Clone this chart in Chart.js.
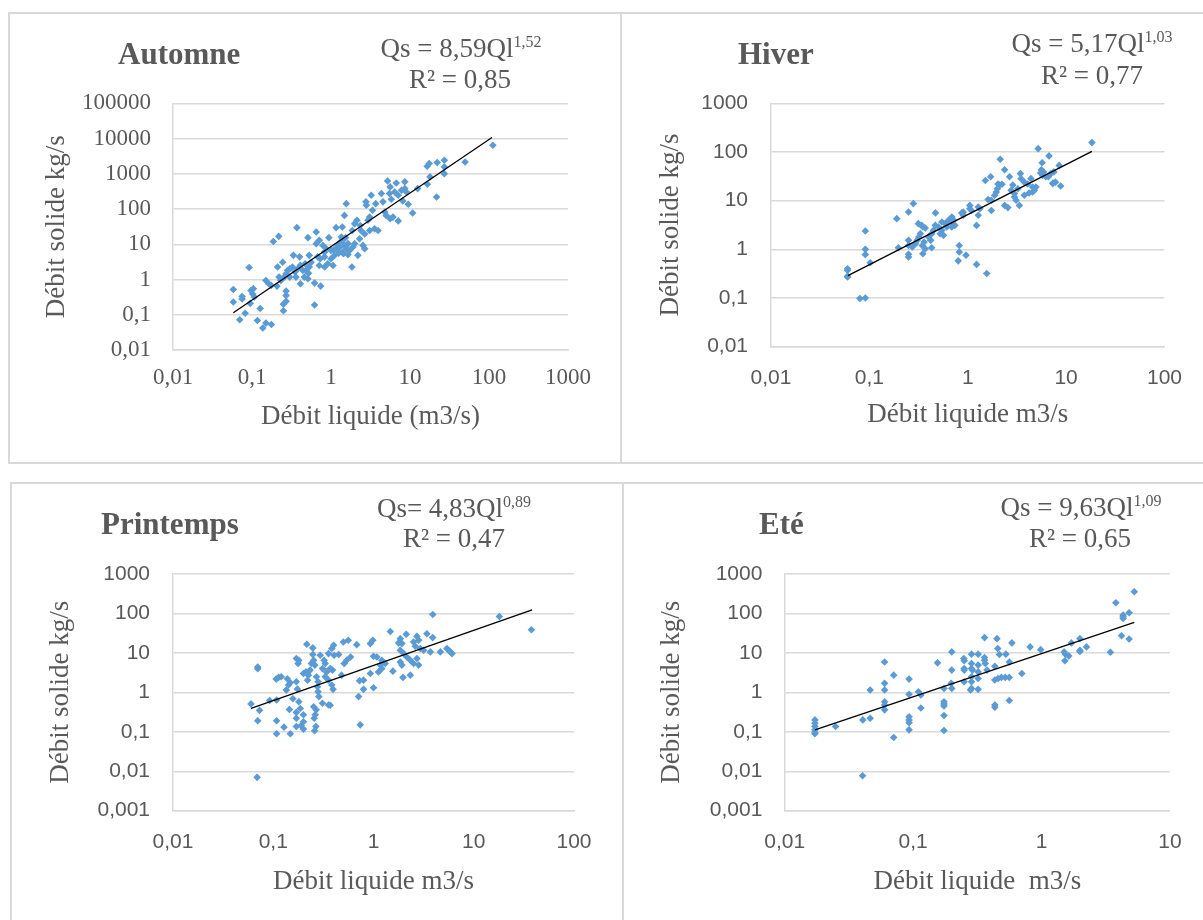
<!DOCTYPE html>
<html><head><meta charset="utf-8">
<script src="https://cdn.jsdelivr.net/npm/chart.js@4"></script>
<style>
html,body{margin:0;padding:0;background:#fff;}
body{width:1203px;height:920px;position:relative;overflow:hidden;font-family:'Liberation Serif','Times New Roman',serif;color:#595959;}
.frame{position:absolute;border:2px solid #d9d9d9;box-sizing:border-box;}
canvas{position:absolute;}
.t{position:absolute;white-space:nowrap;line-height:1;}
.title{font-weight:bold;font-size:31px;transform:translate(0,-50%);}
.eq{font-size:27px;transform:translate(-50%,-50%);}
.sp{font-size:16px;position:relative;top:-10px;}
</style>
</head><body>
<div class="frame" style="left:8px;top:12px;width:614px;height:452px;"></div>
<div class="frame" style="left:620px;top:12px;width:600px;height:452px;"></div>
<div class="frame" style="left:10px;top:482px;width:614px;height:460px;"></div>
<div class="frame" style="left:622px;top:482px;width:600px;height:460px;"></div>

<canvas id="c1"></canvas>
<canvas id="c2"></canvas>
<canvas id="c3"></canvas>
<canvas id="c4"></canvas>

<div class="t title" style="left:118px;top:53px;">Automne</div>
<div class="t eq" style="left:461px;top:48px;">Qs = 8,59Ql<span class="sp">1,52</span></div>
<div class="t eq" style="left:460px;top:79px;">R² = 0,85</div>

<div class="t title" style="left:738px;top:53px;">Hiver</div>
<div class="t eq" style="left:1092px;top:43px;">Qs = 5,17Ql<span class="sp">1,03</span></div>
<div class="t eq" style="left:1092px;top:75px;">R² = 0,77</div>

<div class="t title" style="left:101px;top:523px;">Printemps</div>
<div class="t eq" style="left:454px;top:508px;">Qs= 4,83Ql<span class="sp">0,89</span></div>
<div class="t eq" style="left:454px;top:538px;">R² = 0,47</div>

<div class="t title" style="left:759px;top:523px;">Eté</div>
<div class="t eq" style="left:1081px;top:507px;">Qs = 9,63Ql<span class="sp">1,09</span></div>
<div class="t eq" style="left:1080px;top:538px;">R² = 0,65</div>

<script>
// ---------- Automne ----------
const automneQl = [0.058,0.058,0.07,0.075,0.075,0.082,0.092,0.097,0.102,0.107,
0.095,0.104,0.117,0.127,0.137,0.15,0.176,0.15,0.163,0.175,
0.186,0.218,0.207,0.22,0.211,0.245,0.25,0.25,0.27,0.27,
0.27,0.232,0.256,0.27,0.282,0.3,0.325,0.334,0.37,0.40,
0.35,0.38,0.41,0.41,0.46,0.48,0.47,0.51,0.53,0.52,
0.56,0.53,0.62,0.62,0.65,0.68,0.73,0.71,0.74,0.65,
0.71,0.79,0.83,0.87,0.83,0.83,0.91,0.94,1.06,1.0,
1.11,1.16,1.22,1.16,1.39,1.48,1.56,1.35,1.41,1.48,
1.56,1.64,1.72,1.29,1.39,1.9,1.99,1.84,1.86,1.99,
2.13,2.19,2.3,2.54,2.67,2.4,2.67,2.8,2.77,3.23,
3.08,2.94,3.08,3.56,3.94,3.68,3.35,4.34,4.55,4.8,
5.0,5.6,6.1,5.2,5.6,5.5,5.8,6.4,7.1,7.8,
8.6,9.0,6.7,8.6,7.1,9.5,10.8,12.5,8.1,16.5,
17.5,17.9,16.6,21.7,22.1,27.2,27.2,27.2,49.8,112,
1.08,1.25,1.44,1.64,1.0,1.31,1.53,2.35,0.3,0.36,
0.44,0.51];
const automneQs = [0.52,0.23,0.072,0.33,0.28,0.11,2.2,0.49,0.39,0.32,
0.21,0.55,0.069,0.15,0.042,0.058,0.053,0.94,0.76,0.68,
12,16.8,0.65,1.17,2.26,3.1,0.2,0.13,0.47,0.35,
0.24,0.94,1.17,1.46,1.82,2.0,2.26,4.85,29.6,4.4,
1.63,2.03,2.52,0.76,1.17,1.82,2.8,15.4,2.26,1.5,
3.1,4.85,0.79,0.19,22.3,4.4,3.9,2.5,0.65,10.4,
12.9,9.3,6.0,7.5,4.4,2.26,2.8,15.4,2.5,3.9,
4.85,7.5,9.3,29.6,31,66,142,16,13,9.3,
7.5,10.4,6.7,8.4,6.0,8.4,10.4,2.26,24.6,38,
48,4.85,14.4,9.3,7.5,24.6,19.5,128,160,245,
59,48,24.6,27.7,24.6,142,92,275,160,82,
66,53,59,626,425,275,190,305,245,340,
380,305,550,590,46,136,77,380,170,1640,
1950,815,505,220,2080,2420,1570,1010,2170,6460,
7.0,5.6,5.4,5.1,6.7,11.6,15.4,34,1.17,1.17,
1.82,1.05];
const automneTrendQl = [0.058, 109];
const automneTrendQs = [0.114, 10700];
const automneXTicks = [0.01, 0.1, 1, 10, 100, 1000];
const automneYTicks = [0.01, 0.1, 1, 10, 100, 1000, 10000, 100000];

// ---------- Hiver ----------
const hiverQl = [18.3,5.2,6.7,5.7,8.5,5.6,5.5,7.0,7.5,6.6,
7.4,7.8,8.8,2.14,2.37,1.71,1.51,2.03,2.11,2.23,
2.0,1.95,1.88,1.61,1.74,1.74,2.37,2.56,3.35,2.66,
2.87,2.76,2.98,3.23,3.43,3.48,3.76,4.07,4.39,4.56,
4.74,4.93,2.98,3.1,3.76,4.2,4.56,5.77,6.22,5.9,
7.3,0.28,0.25,0.19,0.47,0.197,0.25,0.25,0.25,0.25,
0.273,0.295,0.306,0.318,0.33,0.315,0.34,0.35,0.37,0.345,
0.35,0.36,0.37,0.43,0.4,0.42,0.43,0.45,0.468,0.505,
0.546,0.59,0.613,0.637,0.525,0.546,0.567,0.688,0.7,0.74,
0.69,0.72,0.87,0.9,0.9,1.05,1.05,1.09,1.28,1.33,
1.28,1.23,0.82,0.82,0.8,0.96,1.23,1.56,0.06,0.06,
0.06,0.06,0.08,0.091,0.091,0.091,0.091,0.102];
const hiverQs = [156,117,83,60,53,43,37,36,39,31,
23,24,20,71,43,31,26,22,21,21.7,
17.6,15,12.9,10.6,10.2,6.3,8.0,7.2,8.0,31,
21,16.3,14,17.6,36,28.3,24,22,28.3,19,
16.3,19,11.9,10.2,12.9,14.4,15.1,33,31,39,
22.5,8.7,5.85,4.27,5.6,1.08,1.53,1.2,0.79,0.7,
1.12,1.31,1.53,1.79,2.1,3.37,3.11,2.87,2.74,1.2,
0.81,1.41,1.03,1.08,1.79,1.53,2.1,2.46,3.11,2.87,
3.65,3.37,2.87,3.94,2.1,2.46,1.94,2.87,3.37,3.11,
4.6,3.94,5.6,5.85,5.0,8.0,6.8,6.3,7.4,6.8,
5.0,3.1,1.2,0.88,0.58,0.76,0.49,0.32,0.4,0.37,
0.27,0.28,0.098,0.1,2.38,1.0,0.78,0.53];
const hiverTrendQl = [0.0605, 18.3];
const hiverTrendQs = [0.288, 103];
const hiverXTicks = [0.01, 0.1, 1, 10, 100];
const hiverYTicks = [0.01, 0.1, 1, 10, 100, 1000];

// ---------- Printemps ----------
const printempsQl = [37.6,18,3.9,1.47,2.12,1.85,1.78,1.92,2.71,2.82,
3.41,3.89,2.51,2.61,2.93,3.16,3.69,4.64,5.4,5.62,
5.84,6.07,1.85,2.0,2.15,1.85,1.92,2.33,2.51,2.71,
2.82,1.97,2.33,1.56,0.93,0.984,1.0,1.08,1.21,1.17,
1.31,1.21,1.12,0.93,1.0,0.796,0.726,0.796,0.71,0.737,
0.06,0.073,0.07,0.07,0.07,0.092,0.108,0.108,0.108,0.128,
0.148,0.107,0.113,0.12,0.138,0.135,0.142,0.148,0.157,0.145,
0.17,0.177,0.18,0.17,0.174,0.17,0.17,0.18,0.186,0.17,
0.19,0.2,0.2,0.2,0.216,0.248,0.248,0.253,0.24,0.26,
0.2,0.212,0.224,0.233,0.22,0.27,0.28,0.276,0.28,0.285,
0.253,0.268,0.262,0.256,0.266,0.259,0.294,0.322,0.33,0.356,
0.384,0.405,0.31,0.34,0.37,0.39,0.33,0.356,0.384,0.395,
0.31,0.356,0.37,0.50,0.56,0.68,0.51,0.54,0.59,0.48,
0.4,0.45,0.069];
const printempsQs = [38.7,84,94,35,29.6,23,17.9,17.2,26.3,20.9,
30.7,24.4,18.9,14.7,12.9,11.7,10.6,10.6,12.9,11.7,
10.6,9.6,11.7,9.6,7.9,5.9,4.9,6.5,5.4,7.2,
4.9,2.39,2.73,3.45,17.2,20.9,8.2,7.9,6.5,4.9,
5.4,4.0,3.3,3.0,1.31,1.19,1.97,2.04,0.78,0.15,
0.51,0.35,0.19,4.4,3.95,0.62,0.64,0.19,0.089,0.131,
0.089,2.17,2.39,2.48,2.21,1.14,1.53,1.75,0.69,0.37,
7.2,5.4,6.5,1.86,1.21,0.22,0.31,0.58,0.39,0.136,
0.145,0.18,0.27,0.117,16.5,13.4,9.1,6.5,5.4,4.9,
3.0,3.3,2.73,3.66,2.04,2.48,1.86,1.39,1.04,0.78,
0.43,0.36,0.27,0.22,0.136,0.106,8.7,6.5,5.4,9.6,
12.9,8.7,4.0,3.3,4.0,3.66,2.48,2.04,1.53,1.19,
0.53,0.48,0.47,18.9,20.9,16.2,5.4,6.5,7.9,2.73,
15.6,9.1,0.007];
const printempsTrendQl = [0.060, 38.2];
const printempsTrendQs = [0.395, 124];
const printempsXTicks = [0.01, 0.1, 1, 10, 100];
const printempsYTicks = [0.001, 0.01, 0.1, 1, 10, 100, 1000];

// ---------- Eté ----------
const eteQl = [0.0172,0.0172,0.0172,0.0172,0.0172,0.0172,0.0249,0.0406,0.0463,0.0404,
0.0463,0.06,0.06,0.06,0.06,0.06,0.06,0.0706,0.0706,0.093,
0.093,0.093,0.093,0.093,0.093,0.11,0.115,0.115,0.155,0.174,
0.174,0.174,0.174,0.174,0.174,0.2,0.2,0.198,0.2,0.248,
0.25,0.25,0.25,0.25,0.285,0.285,0.285,0.29,0.285,0.285,
0.285,0.28,0.321,0.321,0.321,0.321,0.321,0.36,0.36,0.36,
0.365,0.376,0.45,0.456,0.47,0.528,0.433,0.433,0.459,0.487,
0.522,0.561,0.433,0.433,0.561,0.561,0.588,0.703,0.815,0.985,
1.5,1.52,1.54,1.63,1.71,1.99,1.99,1.99,2.24,3.79,
5.28,4.81,4.32,4.32,4.32,4.2,4.81,3.44];
const eteQs = [0.2,0.165,0.136,0.112,0.096,0.089,0.136,0.2,0.22,0.0077,
1.15,5.9,1.69,1.15,0.58,0.48,0.36,2.73,0.072,2.17,
0.89,0.24,0.2,0.17,0.112,1.04,0.86,0.40,5.6,1.26,
0.58,0.51,0.45,0.26,0.108,10.6,3.66,1.69,1.26,7.2,
6.3,4.0,3.66,1.86,9.3,5.4,4.0,3.66,2.48,1.86,
1.26,1.15,9.3,4.9,3.3,2.25,1.19,24.4,7.6,6.5,
5.4,3.66,23,12.9,9.1,9.3,4.6,2.05,2.25,2.39,
2.39,2.39,0.48,0.42,0.62,5.9,17.9,3.0,14.2,12.1,
10.6,6.3,9.1,8.4,17.9,11.6,10.9,23,14.2,187,
356,104,83,75,91,27.3,22.5,10.4];
const eteTrendQl = [0.0172, 5.28];
const eteTrendQs = [0.112, 59.6];
const eteXTicks = [0.01, 0.1, 1, 10];
const eteYTicks = [0.001, 0.01, 0.1, 1, 10, 100, 1000];

const yTitle = 'Débit solide kg/s';

function fmt(v) { return String(v).replace('.', ','); }

function build(cfg) {
  const c = document.getElementById(cfg.id);
  c.width = cfg.cw; c.height = cfg.ch;
  c.style.left = cfg.cx + 'px'; c.style.top = cfg.cy + 'px';
  c.style.width = cfg.cw + 'px'; c.style.height = cfg.ch + 'px';
  const pts = cfg.xs.map((x, i) => ({x: x, y: cfg.ys[i]}));
  const tr = cfg.tx.map((x, i) => ({x: x, y: cfg.ty[i]}));
  const tickFont = cfg.tickFont;
  const titleFont = {family: 'Liberation Serif', size: 27};
  new Chart(c, {
    type: 'scatter',
    data: {datasets: [
      {data: tr, showLine: true, borderColor: '#000000', borderWidth: 1.3, pointRadius: 0, pointHoverRadius: 0, fill: false, tension: 0, order: 0},
      {data: pts, pointStyle: 'rectRot', pointRadius: 3.8, pointHoverRadius: 3.8, backgroundColor: '#5B9BD5', borderColor: '#5B9BD5', borderWidth: 0, order: 1}
    ]},
    options: {
      responsive: false, animation: false, devicePixelRatio: 1, events: [],
      layout: {padding: {left: 0, top: cfg.padTop, right: cfg.padRight, bottom: 0}},
      plugins: {legend: {display: false}, tooltip: {enabled: false}},
      scales: {
        x: {
          type: 'logarithmic', position: 'bottom',
          min: cfg.xTicks[0], max: cfg.xTicks[cfg.xTicks.length - 1],
          afterFit: s => { s.height = cfg.xH; },
          afterBuildTicks: s => { s.ticks = cfg.xTicks.map(v => ({value: v})); },
          grid: {display: false, drawTicks: false},
          border: {display: true, color: '#d9d9d9', width: 1.5},
          ticks: {autoSkip: false, maxRotation: 0, padding: cfg.xTickPad, color: '#595959', font: tickFont, callback: v => fmt(v)},
          title: {display: true, text: cfg.xTitle, color: '#595959', font: titleFont, padding: {top: 0, bottom: cfg.xTitlePad}}
        },
        y: {
          type: 'logarithmic', position: 'left',
          min: cfg.yTicks[0], max: cfg.yTicks[cfg.yTicks.length - 1],
          afterFit: s => { s.width = cfg.yW; },
          afterBuildTicks: s => { s.ticks = cfg.yTicks.map(v => ({value: v})); },
          grid: {display: true, drawTicks: false, color: '#d9d9d9', lineWidth: 1.5},
          border: {display: true, color: '#d9d9d9', width: 1.5},
          ticks: {autoSkip: false, padding: cfg.yTickPad, color: '#595959', font: tickFont, callback: v => fmt(v)},
          title: {display: true, text: yTitle, color: '#595959', font: titleFont, padding: {top: cfg.yTitlePad, bottom: 0}}
        }
      }
    }
  });
}

const serifTicks = {family: 'Liberation Serif', size: 23};
const sansTicks = {family: 'Liberation Sans', size: 21};

build({id: 'c1', cx: 10, cy: 15, cw: 605, ch: 445, padTop: 88.3, padRight: 47, yW: 163, xH: 110,
  yTitlePad: 31.1, xTitlePad: 26.8, yTickPad: 22, xTickPad: 14.5, tickFont: serifTicks,
  xs: automneQl, ys: automneQs, tx: automneTrendQl, ty: automneTrendQs,
  xTicks: automneXTicks, yTicks: automneYTicks, xTitle: 'Débit liquide (m3/s)'});
build({id: 'c2', cx: 623, cy: 15, cw: 578, ch: 445, padTop: 88.3, padRight: 31, yW: 148, xH: 113.3,
  yTitlePad: 31.3, xTitlePad: 28.8, yTickPad: 23, xTickPad: 19, tickFont: sansTicks,
  xs: hiverQl, ys: hiverQs, tx: hiverTrendQl, ty: hiverTrendQs,
  xTicks: hiverXTicks, yTicks: hiverYTicks, xTitle: 'Débit liquide m3/s'});
build({id: 'c3', cx: 13, cy: 485, cw: 605, ch: 433, padTop: 89, padRight: 44, yW: 160, xH: 107.3,
  yTitlePad: 32.1, xTitlePad: 20.1, yTickPad: 23, xTickPad: 19.4, tickFont: sansTicks,
  xs: printempsQl, ys: printempsQs, tx: printempsTrendQl, ty: printempsTrendQs,
  xTicks: printempsXTicks, yTicks: printempsYTicks, xTitle: 'Débit liquide m3/s'});
build({id: 'c4', cx: 625, cy: 485, cw: 576, ch: 433, padTop: 89, padRight: 28.6, yW: 159.7, xH: 107.3,
  yTitlePad: 31.2, xTitlePad: 20.1, yTickPad: 22.3, xTickPad: 19.4, tickFont: sansTicks,
  xs: eteQl, ys: eteQs, tx: eteTrendQl, ty: eteTrendQs,
  xTicks: eteXTicks, yTicks: eteYTicks, xTitle: 'Débit liquide  m3/s'});
</script>
</body></html>
